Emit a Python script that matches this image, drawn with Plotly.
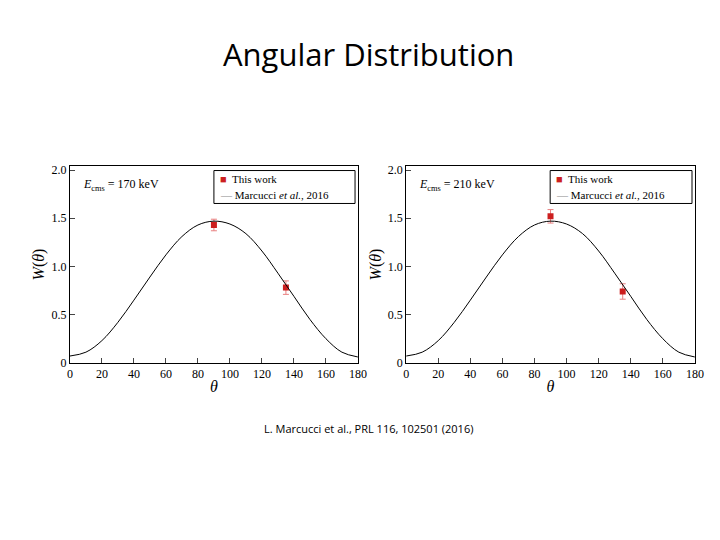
import plotly.graph_objects as go

# theory curve (Marcucci et al., 2016)
theta = [0, 10, 20, 30, 40, 50, 60, 70, 80, 90, 100, 110, 120, 130, 140, 150, 160, 170, 180]
w_theory = [0.07, 0.11, 0.23, 0.42, 0.65, 0.89, 1.12, 1.31, 1.43, 1.47, 1.44, 1.34, 1.16, 0.93, 0.69, 0.45, 0.25, 0.11, 0.06]

# measured points
theta_data = [90, 135]
w_170 = [1.43, 0.78]
err_170 = [0.06, 0.07]
w_210 = [1.52, 0.74]
err_210 = [0.07, 0.08]

panels = [("170", w_170, err_170, "x", "y"), ("210", w_210, err_210, "x2", "y2")]

fig = go.Figure()
for energy, w, err, xa, ya in panels:
    fig.add_trace(go.Scatter(x=theta_data, y=w, mode="markers", xaxis=xa, yaxis=ya,
                             marker=dict(color="#cc1f1f", size=6, symbol="square"),
                             error_y=dict(type="data", array=err, color="#e88080", thickness=1, width=3),
                             name="This work", showlegend=False))
    fig.add_trace(go.Scatter(x=theta, y=w_theory, mode="lines", xaxis=xa, yaxis=ya,
                             line=dict(color="black", width=1, shape="spline"),
                             name="Marcucci et al., 2016", showlegend=False))

domains = [[0.086, 0.486], [0.553, 0.954]]
axis_style = dict(showline=True, mirror=True, linecolor="black", linewidth=1, ticks="inside",
                  showgrid=False, zeroline=False, automargin=False,
                  tickfont=dict(family="Liberation Serif", size=12, color="black"))
for i, (energy, w, err, xa, ya) in enumerate(panels):
    sx = "" if i == 0 else "2"
    fig.update_layout(**{
        "xaxis" + sx: dict(domain=domains[i], range=[0, 180], dtick=20, anchor="y" + sx,
                           title=dict(text="<i>θ</i>", standoff=0, font=dict(family="Liberation Serif", size=16, color="black")),
                           **axis_style),
        "yaxis" + sx: dict(domain=[0.343, 0.707], range=[0, 2.04], tickvals=[0, 0.5, 1.0, 1.5, 2.0],
                           ticktext=["0", "0.5", "1.0", "1.5", "2.0"], anchor="x" + sx,
                           title=dict(text="<i>W</i>(<i>θ</i>)", standoff=2, font=dict(family="Liberation Serif", size=16, color="black")),
                           **axis_style),
    })
    x0, x1 = domains[i]
    fig.add_annotation(xref="paper", yref="paper", x=x0 + 0.015, y=0.69, xanchor="left", yanchor="top",
                       text=f"<i>E</i><sub>cms</sub> = {energy} keV", showarrow=False,
                       font=dict(family="Liberation Serif", size=12, color="black"))
    # legend box
    fig.add_shape(type="rect", xref="paper", yref="paper", x0=x0 + 0.2, x1=x1 - 0.004, y0=0.638, y1=0.699,
                  line=dict(color="black", width=1), fillcolor="white")
    fig.add_annotation(xref="paper", yref="paper", x=x0 + 0.205, y=0.684, xanchor="left", yanchor="middle",
                       text="<span style='color:#cc1f1f'>■</span>  This work", showarrow=False,
                       font=dict(family="Liberation Serif", size=11, color="black"))
    fig.add_annotation(xref="paper", yref="paper", x=x0 + 0.205, y=0.654, xanchor="left", yanchor="middle",
                       text="<span style='color:#888'>—</span> Marcucci <i>et al.</i>, 2016", showarrow=False,
                       font=dict(family="Liberation Serif", size=11, color="black"))

fig.add_annotation(xref="paper", yref="paper", x=0.5, y=0.915, xanchor="center", yanchor="middle",
                   text="Angular Distribution", showarrow=False,
                   font=dict(family="Open Sans", size=31, color="black"))
fig.add_annotation(xref="paper", yref="paper", x=0.5, y=0.222, xanchor="center", yanchor="middle",
                   text="L. Marcucci et al., PRL 116, 102501 (2016)", showarrow=False,
                   font=dict(family="Open Sans", size=11, color="black"))

fig.update_layout(width=720, height=540, margin=dict(l=0, r=0, t=0, b=0),
                  paper_bgcolor="white", plot_bgcolor="white", showlegend=False)
fig.write_html("out.html")
